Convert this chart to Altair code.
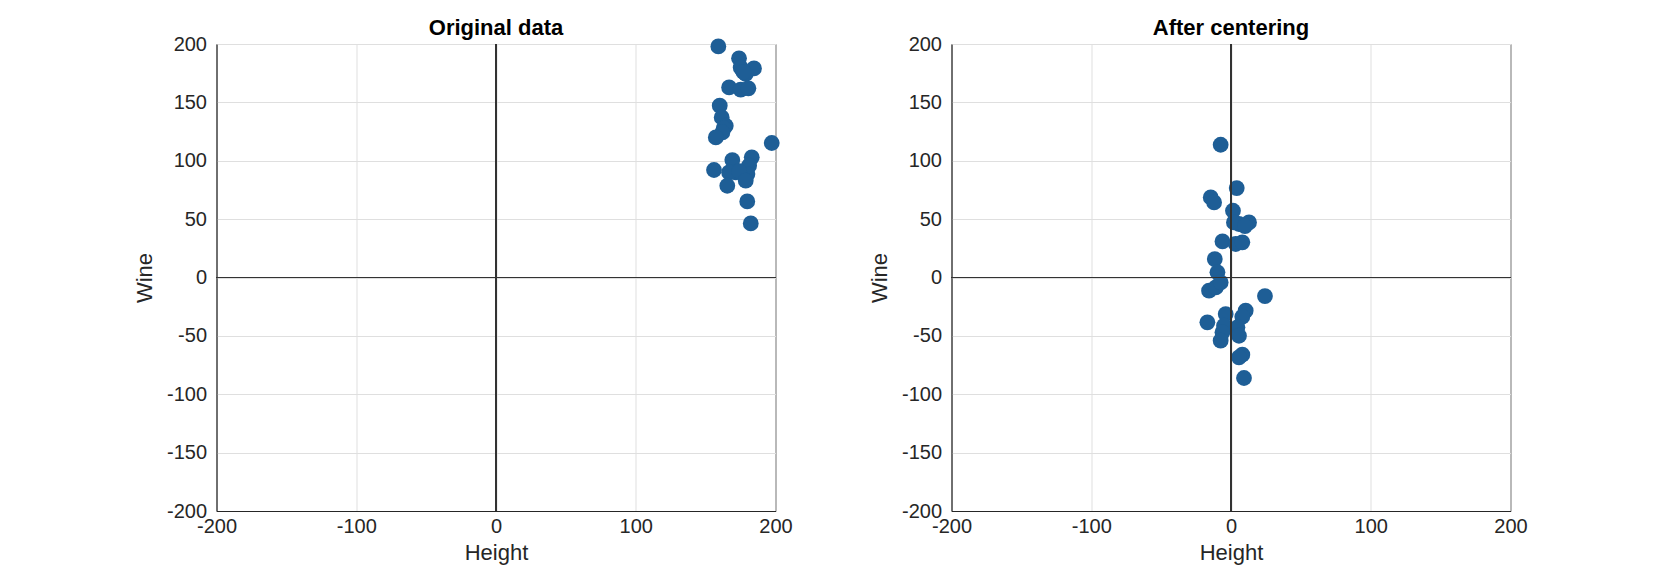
import altair as alt
import pandas as pd

# Original data (Height, Wine)
orig_height = [159.1, 173.9, 175.1, 184.6, 178.7, 177.0, 166.8, 175.1, 180.6, 160.1,
               161.5, 164.4, 163.0, 162.0, 157.3, 197.3, 169.1, 183.0, 156.0, 181.1,
               171.5, 166.8, 179.9, 174.0, 165.5, 178.7, 179.8, 182.3]
orig_wine = [197.9, 187.7, 179.8, 179.1, 174.3, 176.0, 162.8, 160.9, 162.0, 147.2,
             137.1, 130.0, 128.0, 124.3, 120.0, 115.2, 100.6, 102.9, 92.1, 95.8,
             90.0, 90.0, 88.6, 91.0, 78.6, 82.9, 65.2, 46.3]

# After centering (Height, Wine)
cent_height = [-7.4, 4.1, -14.5, -12.1, 1.4, 12.9, 5.7, 2.1, 10.0, -6.1,
               3.4, 8.1, -11.6, -9.7, -15.7, -10.9, -7.4, 24.3, 10.5, 8.1,
               -3.8, -16.9, -5.0, 4.6, -6.1, 5.7, -7.4, 8.1, 5.7, 9.3]
cent_wine = [113.7, 76.6, 68.6, 64.3, 57.2, 47.2, 45.8, 47.2, 44.0, 30.9,
             28.7, 30.1, 15.8, 4.4, -11.3, -8.5, -4.2, -15.9, -28.4, -33.6,
             -31.3, -38.4, -41.3, -42.7, -47.0, -49.9, -54.1, -66.1, -68.4, -86.1]

x_ticks = [-200, -100, 0, 100, 200]
y_ticks = [-200, -150, -100, -50, 0, 50, 100, 150, 200]

FONT = "Liberation Sans"
DARK = "#262626"
PT_COLOR = "#1e5e96"
W, H = 559, 467


def panel(hs, ws, title):
    df = pd.DataFrame({"Height": hs, "Wine": ws})
    xs = alt.Scale(domain=[-200, 200], nice=False, zero=False)
    ys = alt.Scale(domain=[-200, 200], nice=False, zero=False)
    xax = alt.Axis(values=x_ticks, title="Height", grid=True,
                   labelFlush=False, labelOverlap=False,
                   labelExpr="'' + datum.value")
    yax = alt.Axis(values=y_ticks, title="Wine", grid=True,
                   labelFlush=False, labelOverlap=False,
                   labelExpr="'' + datum.value")
    pts = alt.Chart(df).mark_circle(size=250, opacity=1, color=PT_COLOR).encode(
        x=alt.X("Height:Q", scale=xs, axis=xax),
        y=alt.Y("Wine:Q", scale=ys, axis=yax),
    )
    zx = alt.Chart(df).mark_rule(color="#333333", strokeWidth=1).encode(
        x=alt.datum(0)
    )
    zy = alt.Chart(df).mark_rule(color="#333333", strokeWidth=1).encode(
        y=alt.datum(0)
    )
    return alt.layer(pts, zx, zy).properties(
        width=W,
        height=H,
        title=alt.TitleParams(
            text=title, font=FONT, fontSize=22, fontWeight="bold",
            color="#000000", anchor="middle", baseline="alphabetic", offset=-23,
        ),
    )


left = panel(orig_height, orig_wine, "Original data")
right = panel(cent_height, cent_wine, "After centering")

chart = alt.hconcat(left, right, spacing=176, bounds="flush").properties(
    padding={"left": 124.5, "top": 8, "right": 5, "bottom": 5},
    background="white",
).configure_view(
    stroke=DARK, strokeWidth=1
).configure_axis(
    labelFont=FONT, titleFont=FONT, labelFontSize=20, titleFontSize=22,
    labelColor=DARK, titleColor=DARK, titleFontWeight="normal",
    domainColor=DARK, domainWidth=1, grid=True,
    gridColor="#dfdfdf", gridWidth=1,
    ticks=False, tickSize=0,
).configure_axisX(
    labelPadding=5, titlePadding=6,
).configure_axisY(
    labelPadding=10, titlePadding=10.25,
)

chart.save("out.html", embed_options={"renderer": "svg", "actions": False})
